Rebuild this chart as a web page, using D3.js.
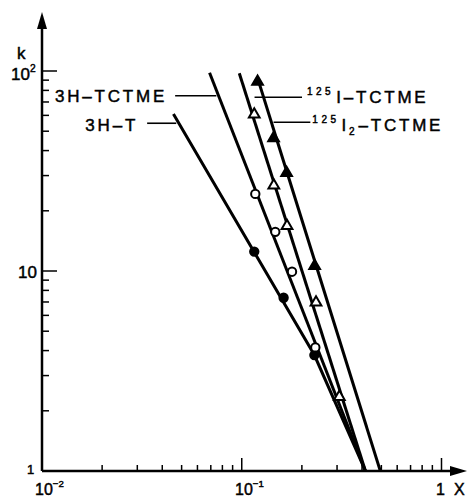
<!DOCTYPE html>
<html>
<head>
<meta charset="utf-8">
<script src="https://cdn.jsdelivr.net/npm/d3@7.9.0/dist/d3.min.js"></script>
<style>
  body { margin: 0; background: #fff; }
  text { font-family: "Liberation Sans", Arial, sans-serif; fill: #000; stroke: #000; stroke-width: 0.45; }
</style>
</head>
<body>
<script>
// series: x (fraction) and k
const hT_lineX = [0.0455, 0.231, 0.416];
const hT_lineK = [61, 3.8, 1];
const hT_ptsX = [0.1155, 0.162, 0.231];
const hT_ptsK = [12.5, 7.35, 3.8];

const hTCTME_lineX = [0.069, 0.416];
const hTCTME_lineK = [98, 1];
const hTCTME_ptsX = [0.1169, 0.1472, 0.1785, 0.2336];
const hTCTME_ptsK = [24.3, 15.7, 9.92, 4.15];

const iTCTME_lineX = [0.0972, 0.416];
const iTCTME_lineK = [97.4, 1];
const iTCTME_ptsX = [0.1155, 0.1447, 0.1685, 0.2354, 0.308];
const iTCTME_ptsK = [60.7, 26.8, 16.8, 6.97, 2.35];

const i2TCTME_lineX = [0.12, 0.494];
const i2TCTME_lineK = [92.3, 1];
const i2TCTME_ptsX = [0.12, 0.1443, 0.1677, 0.2317];
const i2TCTME_ptsK = [88.4, 46.1, 30.9, 10.6];

// leader lines: [x start, x end, k]
const leaders = [
  [0.0464, 0.0746, 75.2],   // 3H-TCTME
  [0.0336, 0.0470, 54.8],   // 3H-T
  [0.1159, 0.2003, 73.9],   // 125I-TCTME
  [0.1443, 0.2205, 55.4]    // 125I2-TCTME
];

const xTicks = [0.02, 0.03, 0.04, 0.05, 0.06, 0.07, 0.08, 0.09, 0.1, 0.2, 0.3, 0.4, 0.5, 0.6, 0.7, 0.8, 0.9, 1];
const yTicks = [2, 3, 4, 5, 6, 7, 8, 9, 10, 20, 30, 40, 50, 60, 70, 80, 90, 100];

const W = 470, H = 499;
const svg = d3.select("body").append("svg")
  .attr("width", W).attr("height", H);

const x = d3.scaleLog().domain([0.01, 1]).range([42, 441.5]);
const y = d3.scaleLog().domain([1, 100]).range([471, 71]);

const isMajor = v => Math.abs(Math.log10(v) - Math.round(Math.log10(v))) < 1e-9;

// axes
svg.append("line")
  .attr("x1", x(0.01)).attr("x2", 452).attr("y1", y(1)).attr("y2", y(1))
  .attr("stroke", "#000").attr("stroke-width", 2.5);
svg.append("path")
  .attr("d", `M467,${y(1)} L450,${y(1) - 5} L450,${y(1) + 5} Z`)
  .attr("fill", "#000");
svg.append("line")
  .attr("x1", x(0.01)).attr("x2", x(0.01)).attr("y1", y(1)).attr("y2", 26)
  .attr("stroke", "#000").attr("stroke-width", 2.5);
svg.append("path")
  .attr("d", `M${x(0.01)},12 L${x(0.01) - 5},29 L${x(0.01) + 5},29 Z`)
  .attr("fill", "#000");

svg.selectAll(".xtick").data(xTicks).enter().append("line")
  .attr("x1", d => x(d)).attr("x2", d => x(d))
  .attr("y1", y(1)).attr("y2", d => y(1) - (isMajor(d) ? 13 : 6))
  .attr("stroke", "#000").attr("stroke-width", 1.5);

svg.selectAll(".ytick").data(yTicks).enter().append("line")
  .attr("y1", d => y(d)).attr("y2", d => y(d))
  .attr("x1", x(0.01)).attr("x2", d => x(0.01) + (isMajor(d) ? 15 : 7))
  .attr("stroke", "#000").attr("stroke-width", 1.5);

// axis labels
function powLabel(px, py, base, exp, size) {
  const t = svg.append("text").attr("x", px).attr("y", py)
    .attr("font-size", size);
  t.append("tspan").text(base);
  if (exp) t.append("tspan").attr("dy", -8).attr("font-size", size * 0.6).text(exp);
  return t;
}
powLabel(35, 495, "10", "−2", 16);
powLabel(235, 495, "10", "−1", 16);
svg.append("text").attr("x", 436).attr("y", 495).attr("font-size", 16).text("1");
svg.append("text").attr("x", 454).attr("y", 495).attr("font-size", 16).text("X");

powLabel(11, 80, "10", "2", 17);
svg.append("text").attr("x", 18).attr("y", 278).attr("font-size", 17).text("10");
svg.append("text").attr("x", 27).attr("y", 474).attr("font-size", 13).text("1");
svg.append("text").attr("x", 17).attr("y", 59).attr("font-size", 17).text("k");

// curves
const line = d3.line().x(d => x(d[0])).y(d => y(d[1]));
const curves = [
  [hT_lineX, hT_lineK],
  [hTCTME_lineX, hTCTME_lineK],
  [iTCTME_lineX, iTCTME_lineK],
  [i2TCTME_lineX, i2TCTME_lineK]
];
curves.forEach(([xs, ks]) => {
  svg.append("path")
    .datum(xs.map((v, i) => [v, ks[i]]))
    .attr("d", line)
    .attr("fill", "none").attr("stroke", "#000").attr("stroke-width", 3);
});

// leaders
svg.selectAll(".leader").data(leaders).enter().append("line")
  .attr("x1", d => x(d[0])).attr("x2", d => x(d[1]))
  .attr("y1", d => y(d[2])).attr("y2", d => y(d[2]))
  .attr("stroke", "#000").attr("stroke-width", 1.6);

// markers
function markers(xs, ks, type, filled) {
  const sym = d3.symbol().type(type).size(type === d3.symbolCircle ? 55 : 50);
  svg.append("g").selectAll("path")
    .data(xs.map((v, i) => [v, ks[i]])).enter().append("path")
    .attr("d", sym)
    .attr("transform", d => `translate(${x(d[0])},${y(d[1])})`)
    .attr("fill", filled ? "#000" : "#fff")
    .attr("stroke", "#000").attr("stroke-width", 2);
}
markers(hT_ptsX, hT_ptsK, d3.symbolCircle, true);
markers(hTCTME_ptsX, hTCTME_ptsK, d3.symbolCircle, false);
markers(iTCTME_ptsX, iTCTME_ptsK, d3.symbolTriangle, false);
markers(i2TCTME_ptsX, i2TCTME_ptsK, d3.symbolTriangle, true);

// series labels
svg.append("text")
  .attr("x", x(leaders[0][0]) - 8).attr("y", y(leaders[0][2]) + 6.5)
  .attr("text-anchor", "end").attr("font-size", 17).attr("letter-spacing", 2.8)
  .text("3H–TCTME");
svg.append("text")
  .attr("x", x(leaders[1][0]) - 9).attr("y", y(leaders[1][2]) + 7.5)
  .attr("text-anchor", "end").attr("font-size", 17).attr("letter-spacing", 2.8)
  .text("3H–T");

const l3 = svg.append("text")
  .attr("x", x(leaders[2][1]) + 5).attr("y", y(leaders[2][2]) + 6)
  .attr("font-size", 17).attr("letter-spacing", 2.8);
l3.append("tspan").attr("dy", -8).attr("font-size", 10).attr("letter-spacing", 3.5).text("125");
l3.append("tspan").attr("dy", 8).attr("dx", 2).text("I–TCTME");

const l4 = svg.append("text")
  .attr("x", x(leaders[3][1]) + 2).attr("y", y(leaders[3][2]) + 8.5)
  .attr("font-size", 17).attr("letter-spacing", 2.8);
l4.append("tspan").attr("dy", -8).attr("font-size", 10).attr("letter-spacing", 3.5).text("125");
l4.append("tspan").attr("dy", 8).attr("dx", 2).text("I");
l4.append("tspan").attr("dy", 4).attr("font-size", 10).text("2");
l4.append("tspan").attr("dy", -4).attr("dx", 1).text("–TCTME");
</script>
</body>
</html>
